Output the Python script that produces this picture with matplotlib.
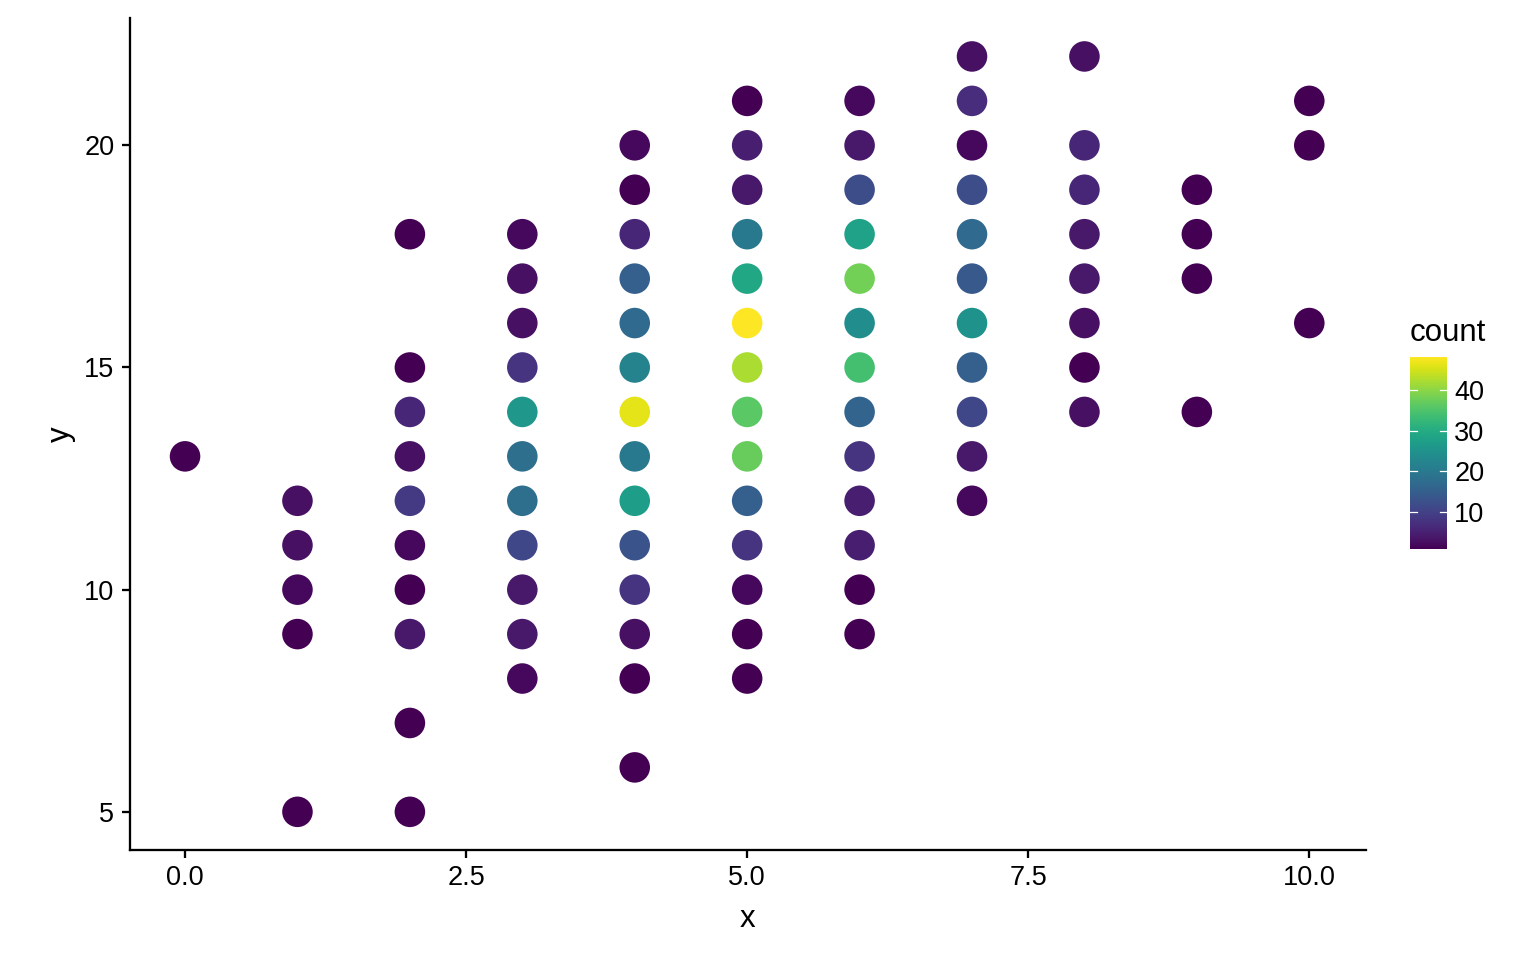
import matplotlib
matplotlib.use("Agg")
import matplotlib.pyplot as plt
import numpy as np
plt.rcParams['font.family'] = ['Liberation Sans', 'DejaVu Sans']

xs = [0,
      1,1,1,1,1,
      2,2,2,2,2,2,2,2,2,2,
      3,3,3,3,3,3,3,3,3,3,3,
      4,4,4,4,4,4,4,4,4,4,4,4,4,4,
      5,5,5,5,5,5,5,5,5,5,5,5,5,5,
      6,6,6,6,6,6,6,6,6,6,6,6,6,
      7,7,7,7,7,7,7,7,7,7,7,
      8,8,8,8,8,8,8,8,
      9,9,9,9,
      10,10,10]
ys = [13,
      12,11,10,9,5,
      18,15,14,13,12,11,10,9,7,5,
      18,17,16,15,14,13,12,11,10,9,8,
      20,19,18,17,16,15,14,13,12,11,10,9,8,6,
      21,20,19,18,17,16,15,14,13,12,11,10,9,8,
      21,20,19,18,17,16,15,14,13,12,11,10,9,
      22,21,20,19,18,17,16,15,14,13,12,
      22,20,19,18,17,16,15,14,
      19,18,17,14,
      21,20,16]
counts = [1,
          3,3,2,1,1,
          1,1,6,3,9,2,1,4,1,1,
          2,3,3,8,26,18,18,11,4,4,2,
          2,1,6,15,17,22,46,20,27,13,8,3,1,1,
          1,5,4,20,29,48,42,36,37,15,8,2,1,1,
          2,4,12,28,38,24,34,16,8,5,5,1,1,
          3,7,2,12,17,14,25,15,11,4,2,
          3,6,6,4,4,3,1,3,
          1,1,1,1,
          1,1,1]

fig = plt.figure(figsize=(10.24, 6.4), dpi=150)
ax = fig.add_axes([0.0846, 0.115, 0.8044, 0.866])
sc = ax.scatter(xs, ys, c=counts, cmap="viridis", s=215, linewidths=0, vmin=1, vmax=48)
ax.set_xlim(-0.49, 10.5)
ax.set_ylim(4.15, 22.86)
ax.set_xticks([0, 2.5, 5, 7.5, 10])
ax.set_xticklabels(["0.0", "2.5", "5.0", "7.5", "10.0"])
ax.set_yticks([5, 10, 15, 20])
for s in ["top", "right"]:
    ax.spines[s].set_visible(False)
for s in ["left", "bottom"]:
    ax.spines[s].set_linewidth(1.1)
ax.tick_params(labelsize=13, colors="black", length=4, width=1.1)
ax.set_xlabel("x", fontsize=15, labelpad=6)
ax.set_ylabel("y", fontsize=15)

cax = fig.add_axes([1410/1536, 1-549/960, 37/1536, 192/960])
cb = fig.colorbar(sc, cax=cax)
cb.set_ticks([10, 20, 30, 40])
cb.outline.set_visible(False)
cb.ax.tick_params(labelsize=13, length=0)
for t in [10, 20, 30, 40]:
    cax.plot([0, 0.2], [t, t], color="white", lw=0.6, transform=cax.get_yaxis_transform())
    cax.plot([0.8, 1], [t, t], color="white", lw=0.6, transform=cax.get_yaxis_transform())
fig.text(1410/1536, 1-333/960, "count", fontsize=15, va="center", ha="left")
fig.savefig("out.png", dpi=150)
